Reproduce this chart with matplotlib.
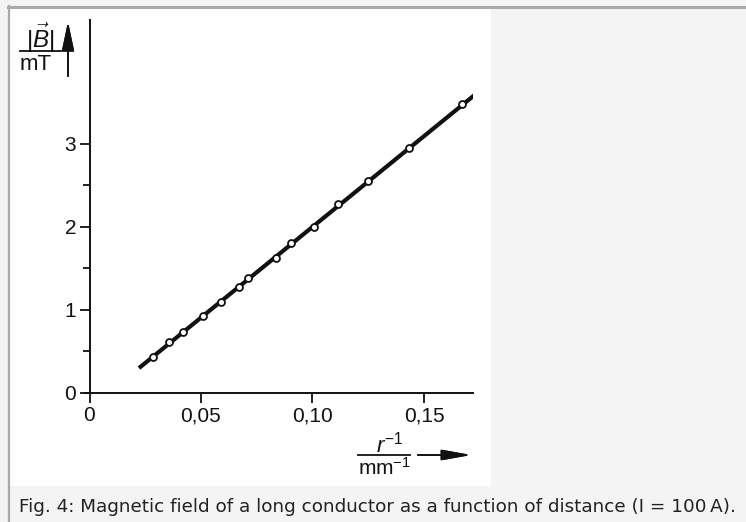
import matplotlib.pyplot as plt
from matplotlib.lines import Line2D
from matplotlib.patches import Rectangle

plt.rcParams['font.family'] = ['Liberation Sans', 'DejaVu Sans']
plt.rcParams['mathtext.fontset'] = 'custom'
plt.rcParams['mathtext.rm'] = 'Liberation Sans'
plt.rcParams['mathtext.it'] = 'Liberation Sans:italic'

# measured points: 1/r in mm^-1, |B| in mT
inv_r = [0.0285, 0.0356, 0.0419, 0.0509, 0.0590, 0.0670, 0.0711,
         0.0836, 0.0904, 0.1007, 0.1114, 0.1249, 0.1433, 0.1670]
b_mt = [0.43, 0.61, 0.74, 0.93, 1.10, 1.28, 1.39,
        1.63, 1.80, 2.00, 2.27, 2.55, 2.95, 3.48]
# fitted straight line (end points)
fit_x = [0.0222, 0.1733]
fit_y = [0.30, 3.60]

xticks = [0, 0.05, 0.10, 0.15]
xlabels = ['0', '0,05', '0,10', '0,15']
yticks = [0, 1, 2, 3]
ylabels = ['0', '1', '2', '3']

W, H = 746, 522
fig = plt.figure(figsize=(W / 100, H / 100), dpi=100)
fig.patch.set_facecolor('#f4f4f4')


def px(x, y):
    return x / W, 1 - y / H


# white image panel and thin frame
fig.patches.append(Rectangle(px(10, 486), 481 / W, 478 / H, transform=fig.transFigure,
                             facecolor='white', edgecolor='none', zorder=-5))
fig.lines.append(Line2D([8 / W, 745 / W], [1 - 7 / H, 1 - 7 / H], transform=fig.transFigure,
                        color='#aaaaaa', lw=2.2))
fig.lines.append(Line2D([9 / W, 9 / W], [0, 1 - 6 / H], transform=fig.transFigure,
                        color='#aaaaaa', lw=1.6))

ax = fig.add_axes([89.5 / W, 1 - 393 / H, 383.5 / W, 373 / H])
ax.set_facecolor('none')
ax.plot(fit_x, fit_y, color='#111111', lw=3.0, solid_capstyle='butt', zorder=2)
ax.plot(inv_r, b_mt, 'o', ms=5, mfc='white', mec='#111111', mew=1.3, zorder=3)

ax.set_xlim(0, 0.172)
ax.set_ylim(0, 4.49)
for s in ['top', 'right']:
    ax.spines[s].set_visible(False)
for s in ['left', 'bottom']:
    ax.spines[s].set_linewidth(1.4)
    ax.spines[s].set_color('#111111')
ax.spines['bottom'].set_bounds(-0.002, 0.172)
ax.set_xticks(xticks)
ax.set_xticklabels(xlabels)
ax.set_yticks(yticks)
ax.set_yticklabels(ylabels)
ax.set_yticks([0.5, 1.5, 2.5], minor=True)
ax.tick_params(axis='both', which='major', length=7, width=1.3, color='#111111',
               labelsize=15, labelcolor='#111111', pad=2.5)
ax.tick_params(axis='y', which='minor', length=5, width=1.3, color='#111111')
ax.spines['bottom'].set_clip_on(False)

# y axis label as a fraction with arrow
fig.text(*px(40, 48), r'$|\vec{B}|$', fontsize=17.5, ha='center', va='baseline', color='#111111')
fig.lines.append(Line2D([20 / W, 61 / W], [1 - 51 / H, 1 - 51 / H], transform=fig.transFigure,
                        color='#111111', lw=1.3))
fig.text(*px(36, 54), 'mT', fontsize=16, ha='center', va='top', color='#111111')
fig.add_artist(plt.annotate('', xy=px(68, 19), xytext=px(68, 79), xycoords='figure fraction',
                            arrowprops=dict(arrowstyle='-|>,head_length=1.8,head_width=0.38',
                                            color='#111111', lw=1.2)))

# x axis label as a fraction with arrow
fig.text(*px(390, 452), r'$r^{-1}$', fontsize=16, ha='center', va='baseline', color='#111111')
fig.lines.append(Line2D([358 / W, 410 / W], [1 - 455 / H, 1 - 455 / H], transform=fig.transFigure,
                        color='#111111', lw=1.3))
fig.text(*px(384, 457), r'mm$^{-1}$', fontsize=15, ha='center', va='top', color='#111111')
fig.add_artist(plt.annotate('', xy=px(474, 455), xytext=px(415, 455), xycoords='figure fraction',
                            arrowprops=dict(arrowstyle='-|>,head_length=1.8,head_width=0.32',
                                            color='#111111', lw=1.2)))

fig.text(*px(19, 507), 'Fig. 4: Magnetic field of a long conductor as a function of distance (I = 100\u2009A).',
         family='DejaVu Sans', fontsize=13.2, ha='left', va='center', color='#222222')

fig.savefig('out.png', dpi=100, facecolor=fig.get_facecolor())
